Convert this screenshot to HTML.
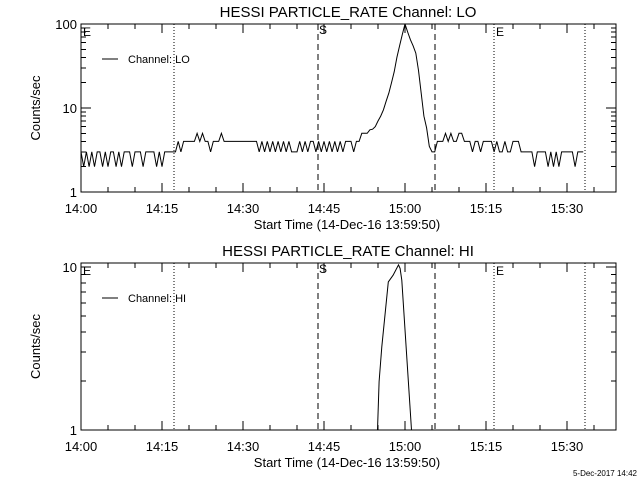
<!DOCTYPE html>
<html><head><meta charset="utf-8"><style>
html,body{margin:0;padding:0;background:#fff;}
svg{display:block;font-family:"Liberation Sans","DejaVu Sans",sans-serif;}
</style></head><body>
<svg id="c" width="640" height="480" viewBox="0 0 640 480"></svg>
<script>
const loStart = 0, loStep = 0.5;
const loValues = [3,2,3,2,3,2,3,3,2,3,2,3,3,2,3,2,3,3,3,2,3,3,3,2,3,3,3,3,2,3,2,3,3,
3,3,
3,4,3,4,4,4,4,4,5,4,5,4,4,3,4,4,4,5,4,4,
4,4,4,4,4,4,4,4,4,4,4,
3,4,3,4,3,4,3,4,3,4,3,4,3,3,3,4,3,4,3,4,4,3,4,3,4,3,4,3,4,3,4,3,4,4,4,
3,4,4,5,
5,5,5.5,5.6,6,7,8,9.5,12,15,20,27,40,55,75,100,80,65,55,45,28,15,8,5.8,3.5,3,
3,4,4,4,5,4,5,4,4,5,5,4,4,4,3,4,4,3,4,4,4,4,3,4,
3,3,4,3,3,4,
4,4,3,3,3,3,3,2,3,3,3,3,2,3,2,3,2,3,3,3,3,3,2,3,3,3];
const hiTimes = [54.6,54.9,55.2,55.7,56.9,57.8,58.8,59.1,59.4,61.2,61.5];
const hiValues = [0.5,1,1.98,3.24,8.1,8.9,10.3,9.8,8.3,1,0.5];
const xTickLabels = ["14:00","14:15","14:30","14:45","15:00","15:15","15:30"];
const xTickMinutes = [0,15,30,45,60,75,90];
const dottedLines = [17.2,76.5,93.3];
const dashedLines = [43.9,65.6];

const svg = document.getElementById('c');
const NS = 'http://www.w3.org/2000/svg';
function el(tag, attrs, parent){const e=document.createElementNS(NS,tag);for(const k in attrs)e.setAttribute(k,attrs[k]);(parent||svg).appendChild(e);return e;}
const X0=81, X1=616, PXMIN=5.4;
function xs(m){return X0+m*PXMIN;}

function panel(p){
  const g=el('g',{});
  
  
  const ys=v=>p.yb-(Math.log10(v)-Math.log10(p.ymin))*p.dec;
  const t=el('text',{x:348,y:p.titleY,'font-size':15,'text-anchor':'middle'},g);t.textContent=p.title;
  
  const fr=el('rect',{x:X0,y:p.yt,width:X1-X0,height:p.yb-p.yt,fill:'none',stroke:'#000','stroke-width':1,'shape-rendering':'crispEdges'},g);
  
  for(let m=0;m*PXMIN+X0<=X1;m+=5){
    const x=xs(m), len=(m%15===0)?9:5;
    el('line',{x1:x,y1:p.yb,x2:x,y2:p.yb-len,stroke:'#000','shape-rendering':'crispEdges'},g);
    el('line',{x1:x,y1:p.yt,x2:x,y2:p.yt+len,stroke:'#000','shape-rendering':'crispEdges'},g);
  }
  xTickLabels.forEach((l,i)=>{const tt=el('text',{x:xs(xTickMinutes[i]),y:p.yb+21,'font-size':13,'text-anchor':'middle'},g);tt.textContent=l;
    });
  const xl=el('text',{x:347,y:p.yb+37,'font-size':13,'text-anchor':'middle'},g);xl.textContent='Start Time (14-Dec-16 13:59:50)';
  
  const yl=el('text',{x:0,y:0,'font-size':13,'text-anchor':'middle',transform:`translate(40,${(p.yt+p.yb)/2}) rotate(-90)`},g);yl.textContent='Counts/sec';
  
  for(let d=p.ymin; d<p.ymax*1.0001; d*=10){
    for(let k=1;k<10;k++){const v=d*k;if(v>p.ymax*1.01)break;const y=ys(v);if(y<p.yt-0.5)break;
      const len=k===1?10:5;
      el('line',{x1:X0,y1:y,x2:X0+len,y2:y,stroke:'#000','shape-rendering':'crispEdges'},g);
      el('line',{x1:X1,y1:y,x2:X1-len,y2:y,stroke:'#000','shape-rendering':'crispEdges'},g);
      if(k===1){const tl=el('text',{x:X0-4,y:y+5,'font-size':13,'text-anchor':'end'},g);tl.textContent=String(v);
        }
    }
  }
  dottedLines.forEach(m=>{const l=el('line',{x1:xs(m),y1:p.yt,x2:xs(m),y2:p.yb,stroke:'#000','stroke-dasharray':'1,2','shape-rendering':'crispEdges'},g);
    });
  dashedLines.forEach(m=>{const l=el('line',{x1:xs(m),y1:p.yt,x2:xs(m),y2:p.yb,stroke:'#000','stroke-dasharray':'6,4','shape-rendering':'crispEdges'},g);
    });
  [['E',83,p.yt+12],['S',319,p.yt+10],['E',496,p.yt+12]].forEach(a=>{const tt=el('text',{x:a[1],y:a[2],'font-size':12},g);tt.textContent=a[0];
    });
  el('line',{x1:102,y1:p.yt+35,x2:118,y2:p.yt+35,stroke:'#000'},g);
  const lt=el('text',{x:128,y:p.yt+39,'font-size':11},g);lt.textContent=p.legend;
  
  const cp=el('clipPath',{id:'cp'+p.name},g);el('rect',{x:X0,y:p.yt,width:X1-X0,height:p.yb-p.yt},cp);
  let d='';p.times.forEach((tm,i)=>{d+=(i?'L':'M')+xs(tm).toFixed(1)+','+ys(p.values[i]).toFixed(1);});
  const path=el('path',{d:d,fill:'none',stroke:'#000','stroke-width':1,'clip-path':`url(#cp${p.name})`},g);
  
}
const loTimes = loValues.map((v,i)=>loStart+i*loStep);
panel({name:'lo',title:'HESSI PARTICLE_RATE Channel: LO',titleY:17,yt:24,yb:192,ymin:1,ymax:100,dec:84,legend:'Channel: LO',times:loTimes,values:loValues});
panel({name:'hi',title:'HESSI PARTICLE_RATE Channel: HI',titleY:256,yt:263,yb:430,ymin:1,ymax:10.5,dec:163,legend:'Channel: HI',times:hiTimes,values:hiValues});
const ts=el('text',{x:637,y:476,'font-size':8,'text-anchor':'end'});ts.textContent='5-Dec-2017 14:42';

</script>
</body></html>
